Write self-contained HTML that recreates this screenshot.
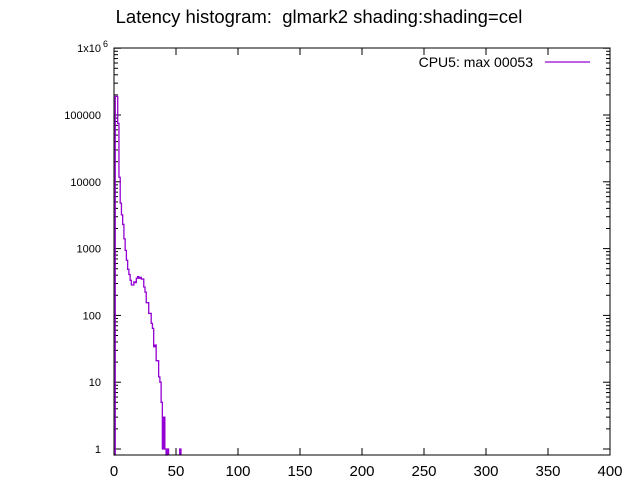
<!DOCTYPE html>
<html><head><meta charset="utf-8"><style>
body{margin:0;background:#fff;}
svg{display:block;font-family:"Liberation Sans",sans-serif;}
</style></head><body>
<svg id="chart" width="640" height="480" viewBox="0 0 640 480">
<text x="319" y="23" text-anchor="middle" font-size="18.5" style="white-space:pre">Latency histogram:&#160; glmark2 shading:shading=cel</text>
<g id="axes"></g>
<path id="series" fill="none" stroke="#9400d3" stroke-width="1.3"></path>
<rect x="114" y="48" width="496" height="407" fill="none" stroke="#000" stroke-width="1"/>
<text x="533" y="67" text-anchor="end" font-size="14">CPU5: max 00053</text>
<line x1="545" y1="62" x2="590" y2="62" stroke="#9400d3" stroke-width="1.3"/>
</svg>
<script>
const binValues=[0,190000,190000,75000,11700,4800,3200,2300,1400,940,670,490,410,335,285,285,317,310,360,380,360,370,350,350,266,223,155,155,107,107,76,64,34,36,21,21,12,10,5,1,3,1,0,1];
const extraBins=[53];
const extraValues=[1];
const xTicks=[0,50,100,150,200,250,300,350,400];
const yTicks=[1,10,100,1000,10000,100000,1000000];
const yTickLabels=["1","10","100","1000","10000","100000","1x10"];
const L=114,R=610,T=48,B=455;
function xs(v){return L+v*(R-L)/400;}
function ys(v){return 449-Math.log10(v)*66.8;}
const ns="http://www.w3.org/2000/svg";
const ax=document.getElementById('axes');
function mk(tag,attrs){const e=document.createElementNS(ns,tag);for(const k in attrs)e.setAttribute(k,attrs[k]);ax.appendChild(e);return e;}
xTicks.forEach(t=>{
  const x=xs(t);
  let l=mk('line',{x1:x,y1:B,x2:x,y2:B-7,stroke:'#000'});
  
  
  l=mk('line',{x1:x,y1:T,x2:x,y2:T+7,stroke:'#000'});
  
  
  const tx=mk('text',{x:x,y:476,'text-anchor':'middle','font-size':'15'});
  tx.textContent=t;
  
  
});
yTicks.forEach((t,i)=>{
  const y=ys(t);
  let l=mk('line',{x1:L,y1:y,x2:L+7,y2:y,stroke:'#000'});
  
  
  l=mk('line',{x1:R,y1:y,x2:R-7,y2:y,stroke:'#000'});
  
  
  if(i<yTicks.length-1){for(let m=2;m<10;m++){const ym=ys(t*m);
    let a=mk('line',{x1:L,y1:ym,x2:L+4,y2:ym,stroke:'#000'});
    
    
    a=mk('line',{x1:R,y1:ym,x2:R-4,y2:ym,stroke:'#000'});
    
    }}
  const tx=mk('text',{x:101,y:y+4,'text-anchor':'end','font-size':'11'});
  tx.textContent=yTickLabels[i];
  
  
  if(i===yTicks.length-1){const s=mk('text',{x:103,y:y-1,'font-size':'9'});s.textContent='6';
    
    }
});
function yv(v){return v>0?ys(v):B;}
let d='M'+xs(0)+','+B;
binValues.forEach((v,i)=>{d+=' L'+xs(i)+','+yv(v)+' L'+xs(i+1)+','+yv(v);});
d+=' L'+xs(binValues.length)+','+B;
extraBins.forEach((b,i)=>{d+=' M'+xs(b)+','+B+' L'+xs(b)+','+yv(extraValues[i])+' L'+xs(b+1)+','+yv(extraValues[i])+' L'+xs(b+1)+','+B;});
document.getElementById('series').setAttribute('d',d);
</script>
</body></html>
